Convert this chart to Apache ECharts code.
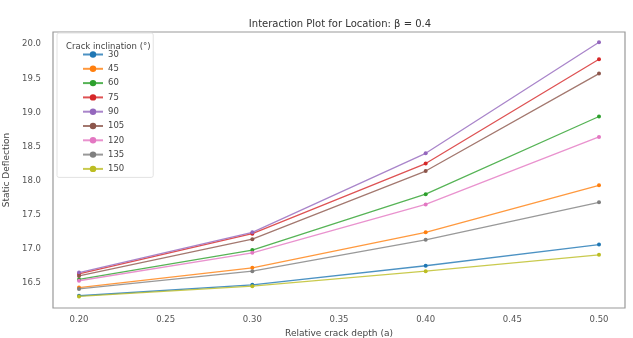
<!DOCTYPE html>
<html>
<head>
<meta charset="utf-8">
<script src="https://cdn.jsdelivr.net/npm/echarts@6/dist/echarts.min.js"></script>
<style>
  html, body { margin: 0; padding: 0; background: #fff; }
  #chart { width: 633px; height: 338px; }
</style>
</head>
<body>
<div id="chart"></div>
<script>
// Relative crack depth on the x axis
const depths = [0.20, 0.30, 0.40, 0.50];
const xTicks = [0.20, 0.25, 0.30, 0.35, 0.40, 0.45, 0.50];
const yTicks = [16.5, 17.0, 17.5, 18.0, 18.5, 19.0, 19.5, 20.0];

// Crack inclination groups (degrees) and static deflection per depth
const inclinations = ['30', '45', '60', '75', '90', '105', '120', '135', '150'];
const defl30  = [16.31, 16.47, 16.75, 17.06];
const defl45  = [16.43, 16.72, 17.24, 17.93];
const defl60  = [16.55, 16.98, 17.80, 18.94];
const defl75  = [16.63, 17.22, 18.25, 19.78];
const defl90  = [16.65, 17.24, 18.40, 20.03];
const defl105 = [16.60, 17.14, 18.14, 19.57];
const defl120 = [16.53, 16.94, 17.65, 18.64];
const defl135 = [16.41, 16.67, 17.13, 17.68];
const defl150 = [16.30, 16.45, 16.67, 16.91];
const deflections = [defl30, defl45, defl60, defl75, defl90, defl105, defl120, defl135, defl150];

const palette = ['#1f77b4', '#ff7f0e', '#2ca02c', '#d62728', '#9467bd',
                 '#8c564b', '#e377c2', '#7f7f7f', '#bcbd22'];

const font = 'DejaVu Sans';
const chart = echarts.init(document.getElementById('chart'), null, { renderer: 'canvas' });

const series = inclinations.map((name, i) => ({
  name: name,
  type: 'line',
  data: depths.map((d, k) => [d, deflections[i][k]]),
  symbol: 'circle',
  symbolSize: 4,
  color: palette[i],
  lineStyle: { width: 1.3, opacity: 0.8 },
  itemStyle: { color: palette[i] },
  emphasis: { disabled: true },
  animation: false
}));

chart.setOption({
  backgroundColor: '#fff',
  animation: false,
  color: palette,
  title: [
    {
      text: 'Interaction Plot for Location: β = 0.4',
      left: 335, top: 14, textAlign: 'center',
      textStyle: { fontFamily: font, fontSize: 10, fontWeight: 'normal', color: '#333' }
    },
    {
      text: 'Crack inclination (°)',
      left: 61, top: 37,
      textStyle: { fontFamily: font, fontSize: 8.5, fontWeight: 'normal', color: '#444' }
    }
  ],
  grid: {
    left: 53, right: 8, top: 32, bottom: 30,
    containLabel: false,
    outerBoundsMode: 'none',
    show: true, borderColor: '#999', borderWidth: 1.2, backgroundColor: '#fff'
  },
  legend: {
    orient: 'vertical',
    left: 57, top: 33,
    data: inclinations,
    padding: [17, 29, 4, 25],
    itemWidth: 20, itemHeight: 8, itemGap: 5.3,
    backgroundColor: '#fff',
    borderColor: '#e2e2e2', borderWidth: 1, borderRadius: 2,
    textStyle: { fontFamily: font, fontSize: 8.5, color: '#444' }
  },
  xAxis: {
    type: 'value',
    min: 0.185, max: 0.515,
    name: 'Relative crack depth (a)',
    nameLocation: 'middle', nameGap: 20,
    nameTextStyle: { fontFamily: font, fontSize: 9, color: '#444' },
    axisLine: { show: false },
    axisTick: { show: false },
    splitLine: { show: false },
    axisLabel: {
      customValues: xTicks,
      formatter: v => v.toFixed(2),
      fontFamily: font, fontSize: 8.5, color: '#555', margin: 7
    }
  },
  yAxis: {
    type: 'value',
    min: 16.13, max: 20.18,
    name: 'Static Deflection',
    nameLocation: 'middle', nameGap: 34,
    nameTextStyle: { fontFamily: font, fontSize: 9, color: '#444' },
    axisLine: { show: false },
    axisTick: { show: false },
    splitLine: { show: false },
    axisLabel: {
      customValues: yTicks,
      formatter: v => v.toFixed(1),
      fontFamily: font, fontSize: 8.5, color: '#555', margin: 12
    }
  },
  series: series
});
</script>
</body>
</html>
